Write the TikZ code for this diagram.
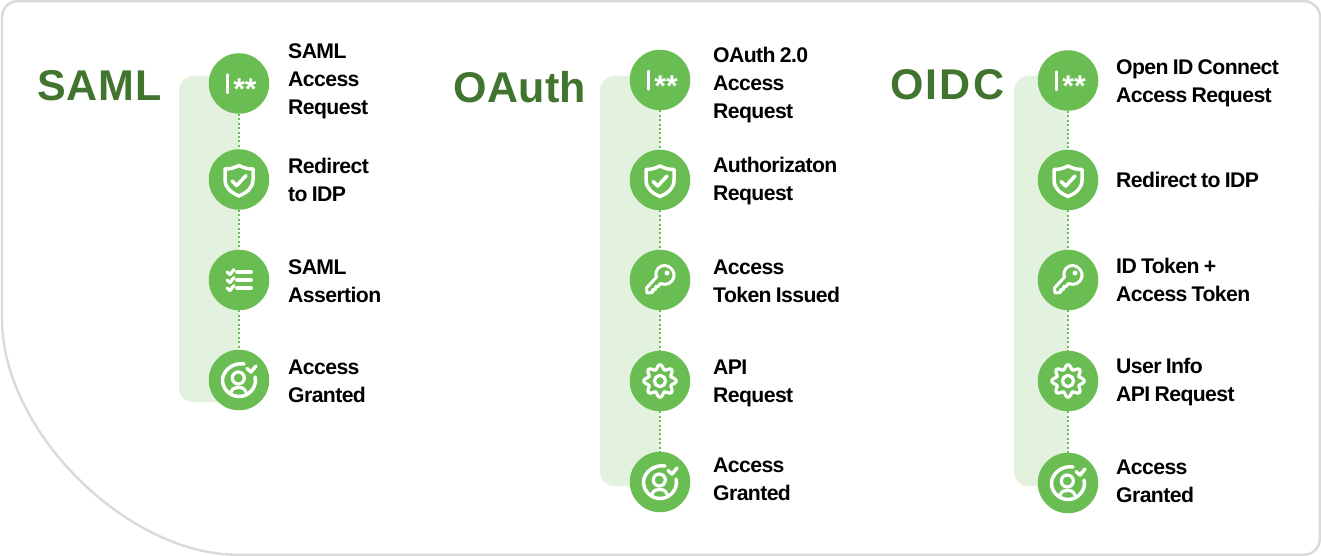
\documentclass[tikz,border=0pt]{standalone}
\usepackage{fontspec}
\setmainfont{Liberation Sans}
\newfontfamily\tightfont[LetterSpace=-2.8,WordSpace=0.8]{Liberation Sans}
\newfontfamily\headfont[LetterSpace=1.0]{Liberation Sans}
\newfontfamily\headfontb[LetterSpace=2.2]{Liberation Sans}
\newfontfamily\headfontc[LetterSpace=5]{Liberation Sans}
\definecolor{stepgreen}{HTML}{6ABD52}
\definecolor{panelgreen}{HTML}{E3F2DE}
\definecolor{headgreen}{HTML}{41752F}
\definecolor{framegray}{HTML}{DADADA}
\tikzset{
  stepdisc/.style={circle,fill=stepgreen,minimum size=60.5pt,inner sep=0pt},
  steplabel/.style={anchor=west,align=left,inner sep=0pt,font=\fontsize{21.2}{28}\tightfont\bfseries,text=black},
  headlabel/.style={anchor=west,inner sep=0pt,text=headgreen},
  panelbox/.style={fill=panelgreen,rounded corners=14pt},
  linkline/.style={stepgreen,line width=1.5pt,dash pattern=on 2pt off 2.4pt},
  iconline/.style={draw=white,line width=3.5pt,line cap=round,line join=round},
  keyicon/.pic={
    \draw[iconline,line width=3pt] (-3.5,-3) .. controls (-6,-10) and (0,-15) .. (5,-14.5)
      .. controls (11,-14) and (15,-8) .. (14,-3)
      .. controls (12.5,3) and (6,6) .. (0.5,3.5)
      -- (-2,6.5) -- (-4.5,6.5) -- (-4.5,9.5) -- (-7.5,9.5) -- (-7.5,12.5) -- (-13,13) -- (-13.5,8) -- cycle;
    \fill[white] (7,-7) circle (2.5pt);
  },
  pwicon/.pic={
    \draw[iconline,line width=2.4pt] (-11.5,-9) -- (-11.5,9.5);
    \node[inner sep=0pt,text=white,font=\fontsize{30}{30}\selectfont\bfseries] (aster) at (6,6) {**};
  },
  shieldicon/.pic={
    \draw[iconline] (0,-14) .. controls (5,-11.5) and (9,-10.5) .. (14,-10.5) -- (14,0)
      .. controls (14,9) and (7,13.5) .. (0,16.5)
      .. controls (-7,13.5) and (-14,9) .. (-14,0) -- (-14,-10.5)
      .. controls (-9,-10.5) and (-5,-11.5) .. (0,-14) -- cycle;
    \draw[iconline] (-7,1.5) -- (-2.3,6) -- (7,-4);
  },
  listicon/.pic={
    \foreach \yy in {-8,0,8}{
      \draw[iconline,line width=3.2pt] (-12,\yy) -- (-9,\yy+2.5) -- (-5,\yy-2.5);
      \draw[iconline,line width=3.8pt] (-2,\yy) -- (12,\yy);
    }
  },
  gearicon/.pic={
    \draw[iconline,line width=3.2pt] plot[domain=0:360,samples=121,smooth] ({(14+2.2*cos(8*\x))*cos(\x)},{(14+2.2*cos(8*\x))*sin(\x)}) -- cycle;
    \draw[iconline,line width=3.2pt] (0,0) circle (5.6pt);
  },
  granticon/.pic={
    \draw[iconline] (5,-16) .. controls (-6,-18) and (-16.5,-9) .. (-16.5,0)
      .. controls (-16.5,10) and (-8,16.5) .. (0,16.5)
      .. controls (9,16.5) and (16.5,9) .. (16.5,0) .. controls (16.5,-1) and (16.3,-2) .. (16,-3);
    \draw[iconline,line width=3.2pt] (-0.7,-2) circle (6pt);
    \draw[iconline,line width=3.2pt] (-8,12) .. controls (-6,8) and (-4,7.5) .. (-0.7,7.5) .. controls (3,7.5) and (5,8) .. (7,12);
    \draw[iconline] (8,-11.5) -- (12,-8) -- (17,-14);
  },
}
\begin{document}
\begin{tikzpicture}[x=1pt,y=-1pt]
\useasboundingbox (0,0) rectangle (1321,556);
% frame
\draw[framegray,line width=2.4pt,fill=white]
  (18,1.2) -- (1304,1.2) arc[start angle=90,end angle=0,radius=16pt]
  -- (1319.8,538.8) arc[start angle=0,end angle=-90,radius=16pt]
  -- (238,554.8) .. controls (127,554.8) and (2,431) .. (2,319)
  -- (2,17) arc[start angle=180,end angle=90,radius=16pt] -- cycle;
% panels
\fill[panelbox] (179,76) rectangle (239,402);
\fill[panelbox] (600,76) rectangle (660,486);
\fill[panelbox] (1014,76) rectangle (1068,486);
% headings
\node[headlabel,font=\fontsize{43}{46}\headfontb\bfseries] (hsaml) at (37,86) {SAML};
\node[headlabel,font=\fontsize{43}{46}\headfont\bfseries] (hoauth) at (453,87) {OAuth};
\node[headlabel,font=\fontsize{43}{46}\headfontc\bfseries] (hoidc) at (890,85) {OIDC};
% SAML
\node[stepdisc] (a1) at (239,83.5) {};
\node[stepdisc] (a2) at (239,179.5) {};
\node[stepdisc] (a3) at (239,280) {};
\node[stepdisc] (a4) at (239,380) {};
% OAuth
\node[stepdisc] (b1) at (660,80) {};
\node[stepdisc] (b2) at (660,180) {};
\node[stepdisc] (b3) at (660,280) {};
\node[stepdisc] (b4) at (660,381) {};
\node[stepdisc] (b5) at (660,482) {};
% OIDC
\node[stepdisc] (c1) at (1068,80.5) {};
\node[stepdisc] (c2) at (1068,180) {};
\node[stepdisc] (c3) at (1068,280) {};
\node[stepdisc] (c4) at (1068,381) {};
\node[stepdisc] (c5) at (1068,483) {};
% links
\foreach \p/\q in {a1/a2,a2/a3,a3/a4,b1/b2,b2/b3,b3/b4,b4/b5,c1/c2,c2/c3,c3/c4,c4/c5}
  \draw[linkline] (\p) -- (\q);
% icons
\pic at (a1) {pwicon};
\pic at (a2) {shieldicon};
\pic at (a3) {listicon};
\pic at (a4) {granticon};
\pic at (b1) {pwicon};
\pic at (b2) {shieldicon};
\pic at (b3) {keyicon};
\pic at (b4) {gearicon};
\pic at (b5) {granticon};
\pic at (c1) {pwicon};
\pic at (c2) {shieldicon};
\pic at (c3) {keyicon};
\pic at (c4) {gearicon};
\pic at (c5) {granticon};
% labels
\node[steplabel] (la1) at (288,81) {SAML\\Access\\Request};
\node[steplabel] (la2) at (288,180) {Redirect\\to IDP};
\node[steplabel] (la3) at (288,281) {SAML\\Assertion};
\node[steplabel] (la4) at (288,381) {Access\\Granted};
\node[steplabel] (lb1) at (713,85) {OAuth 2.0\\Access\\Request};
\node[steplabel] (lb2) at (713,181) {Authorizaton\\Request};
\node[steplabel] (lb3) at (713,281) {Access\\Token Issued};
\node[steplabel] (lb4) at (713,383) {API\\Request};
\node[steplabel] (lb5) at (713,479) {Access\\Granted};
\node[steplabel] (lc1) at (1116,83) {Open ID Connect\\Access Request};
\node[steplabel] (lc2) at (1116,180) {Redirect to IDP};
\node[steplabel] (lc3) at (1116,280) {ID Token +\\Access Token};
\node[steplabel] (lc4) at (1116,382) {User Info\\API Request};
\node[steplabel] (lc5) at (1116,481) {Access\\Granted};
\end{tikzpicture}
\end{document}
